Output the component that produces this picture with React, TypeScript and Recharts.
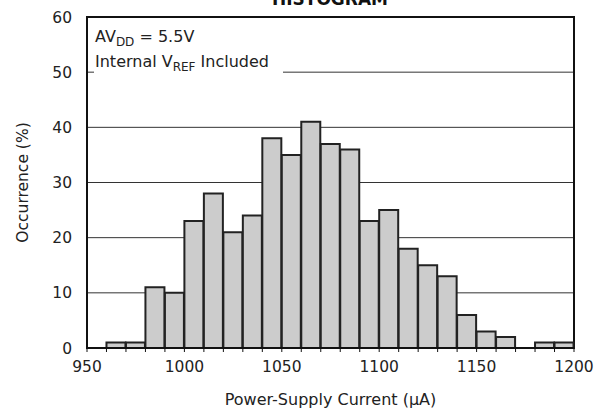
import React from 'react';
import { BarChart, Bar, XAxis, YAxis, CartesianGrid, ReferenceArea, Label } from 'recharts';

const binStarts = [960, 970, 980, 990, 1000, 1010, 1020, 1030, 1040, 1050, 1060, 1070, 1080, 1090, 1100, 1110, 1120, 1130, 1140, 1150, 1160, 1170, 1180, 1190];
const occurrence = [1, 1, 11, 10, 23, 28, 21, 24, 38, 35, 41, 37, 36, 23, 25, 18, 15, 13, 6, 3, 2, 0, 1, 1];
const binWidth = 10;
const xTicks = [950, 960, 970, 980, 990, 1000, 1010, 1020, 1030, 1040, 1050, 1060, 1070, 1080, 1090, 1100, 1110, 1120, 1130, 1140, 1150, 1160, 1170, 1180, 1190, 1200];
const xLabelTicks = [950, 1000, 1050, 1100, 1150, 1200];
const yTicks = [0, 10, 20, 30, 40, 50, 60];
const title = 'HISTOGRAM';
const xTitle = 'Power-Supply Current (\u00B5A)';
const yTitle = 'Occurrence (%)';

const data = binStarts.map((s, i) => ({ x: s + binWidth / 2, v: occurrence[i] }));

const FONT = '"DejaVu Sans", "Liberation Sans", Arial, sans-serif';

export default function App() {
  return (
    <div style={{ position: 'absolute', left: 0, top: 0, width: 594, height: 411, background: '#fff' }}>
      <BarChart
        width={594}
        height={411}
        data={data}
        margin={{ top: 17, right: 20, bottom: 0, left: 0 }}
        barCategoryGap={0}
        barGap={0}
        style={{ fontFamily: FONT }}
      >
        <CartesianGrid vertical={false} stroke="#333" strokeWidth={1} />
        <XAxis
          dataKey="x"
          type="number"
          domain={[950, 1200]}
          ticks={xTicks}
          interval={0}
          height={63}
          tickSize={4}
          tickMargin={9}
          tickLine={{ stroke: '#111', strokeWidth: 1 }}
          axisLine={{ stroke: '#111', strokeWidth: 2 }}
          tick={{ fill: '#222', fontSize: 15.5, fontFamily: FONT }}
          tickFormatter={(v: number) => (xLabelTicks.includes(v) ? String(v) : '')}
        >
          <Label value={xTitle} position="insideBottom" offset={6} style={{ fill: '#222', fontSize: 16, fontFamily: FONT }} />
        </XAxis>
        <YAxis
          type="number"
          domain={[0, 60]}
          ticks={yTicks}
          interval={0}
          width={87}
          tickSize={0}
          tickMargin={15}
          tickLine={false}
          axisLine={false}
          tick={{ fill: '#222', fontSize: 15.5, fontFamily: FONT }}
        >
          <Label value={yTitle} angle={-90} position="insideLeft" offset={22} style={{ fill: '#222', fontSize: 15.5, fontFamily: FONT, textAnchor: 'middle' }} />
        </YAxis>
        <Bar dataKey="v" fill="#cccccc" stroke="#222" strokeWidth={2} isAnimationActive={false} />
        <ReferenceArea x1={950} x2={1200} y1={0} y2={60} fill="none" fillOpacity={0} stroke="#111" strokeWidth={2} ifOverflow="visible" />
      </BarChart>
      <svg width={594} height={411} style={{ position: 'absolute', left: 0, top: 0, pointerEvents: 'none' }}>
        <rect x={94} y={22} width={189} height={52} fill="#fff" />
        <text x={330} y={5} textAnchor="middle" fontFamily={FONT} fontWeight="bold" fontSize={17} fill="#111">{title}</text>
        <text x={95} y={42} fontFamily={FONT} fontSize={16} fill="#222">
          AV<tspan fontSize={12} dy={4}>DD</tspan><tspan dy={-4}> = 5.5V</tspan>
        </text>
        <text x={95} y={67} fontFamily={FONT} fontSize={16} fill="#222">
          Internal V<tspan fontSize={12} dy={4}>REF</tspan><tspan dy={-4}> Included</tspan>
        </text>
      </svg>
    </div>
  );
}
